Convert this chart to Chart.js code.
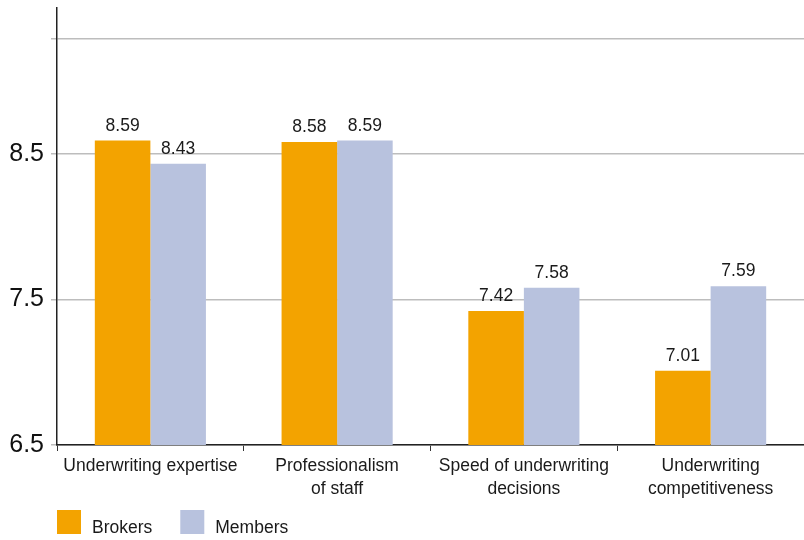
<!DOCTYPE html>
<html>
<head>
<meta charset="utf-8">
<script src="https://cdn.jsdelivr.net/npm/chart.js@4/dist/chart.umd.min.js"></script>
<style>
  html, body { margin: 0; padding: 0; background: #fff; }
  #wrap { width: 804px; height: 540px; }
</style>
</head>
<body>
<div id="wrap"><canvas id="c" width="804" height="540"></canvas></div>
<script>
const categories = [
  ["Underwriting expertise"],
  ["Professionalism", "of staff"],
  ["Speed of underwriting", "decisions"],
  ["Underwriting", "competitiveness"]
];
const brokers = [8.59, 8.58, 7.42, 7.01];
const members = [8.43, 8.59, 7.58, 7.59];
const yTickValues = [6.5, 7.5, 8.5, 9.29];
const yTickLabels = ["6.5", "7.5", "8.5", ""];
const seriesNames = ["Brokers", "Members"];
const seriesColors = ["#F3A300", "#B8C2DE"];

const FONT = "'Liberation Sans', Arial, sans-serif";

const valueLabels = {
  id: 'valueLabels',
  afterDatasetsDraw(chart) {
    const ctx = chart.ctx;
    ctx.save();
    ctx.font = "17.5px " + FONT;
    ctx.fillStyle = "#1a1a1a";
    ctx.textAlign = "center";
    ctx.textBaseline = "alphabetic";
    chart.data.datasets.forEach((ds, i) => {
      const meta = chart.getDatasetMeta(i);
      meta.data.forEach((bar, j) => {
        ctx.fillText(ds.data[j].toFixed(2), bar.x, bar.y - 10);
      });
    });
    ctx.restore();
  }
};

const customLegend = {
  id: 'customLegend',
  afterDraw(chart) {
    const ctx = chart.ctx;
    ctx.save();
    ctx.font = "17.5px " + FONT;
    ctx.textBaseline = "alphabetic";
    ctx.textAlign = "left";
    let x = 57;
    chart.data.datasets.forEach((ds) => {
      ctx.fillStyle = ds.backgroundColor;
      ctx.fillRect(x, 510, 24, 24);
      ctx.fillStyle = "#1a1a1a";
      ctx.fillText(ds.label, x + 35, 533);
      x += 35 + ctx.measureText(ds.label).width + 28;
    });
    ctx.restore();
  }
};

new Chart(document.getElementById('c'), {
  type: 'bar',
  data: {
    labels: categories,
    datasets: [
      { label: seriesNames[0], data: brokers, backgroundColor: seriesColors[0] },
      { label: seriesNames[1], data: members, backgroundColor: seriesColors[1] }
    ]
  },
  options: {
    responsive: false,
    devicePixelRatio: 1,
    animation: false,
    layout: { padding: { top: 8, left: 0, right: 0, bottom: 0 } },
    datasets: { bar: { categoryPercentage: 0.595, barPercentage: 1.0 } },
    plugins: {
      legend: { display: false },
      tooltip: { enabled: false }
    },
    scales: {
      x: {
        grid: {
          display: true,
          drawOnChartArea: false,
          drawTicks: true,
          tickLength: 6,
          color: "#333",
          offset: true
        },
        border: { display: true, color: "#222", width: 1.5 },
        ticks: {
          font: { family: FONT, size: 17.5, lineHeight: 1.35 },
          color: "#1a1a1a",
          padding: 3,
          maxRotation: 0,
          autoSkip: false
        },
        afterFit(scale) { scale.height = 95; scale.paddingLeft = 0; scale.paddingRight = 0; }
      },
      y: {
        min: 6.5,
        max: 9.5,
        afterBuildTicks(scale) {
          scale.ticks = yTickValues.map(v => ({ value: v }));
        },
        grid: {
          color: "#bdbdbd",
          lineWidth: 1.5,
          tickLength: 6,
          drawTicks: true
        },
        border: { display: true, color: "#222", width: 1.5 },
        ticks: {
          font: { family: FONT, size: 25 },
          color: "#111",
          padding: 7,
          callback(value, index) { return yTickLabels[index]; }
        },
        afterFit(scale) { scale.width = 57; scale.paddingTop = 0; scale.paddingBottom = 0; }
      }
    }
  },
  plugins: [valueLabels, customLegend]
});
</script>
</body>
</html>
